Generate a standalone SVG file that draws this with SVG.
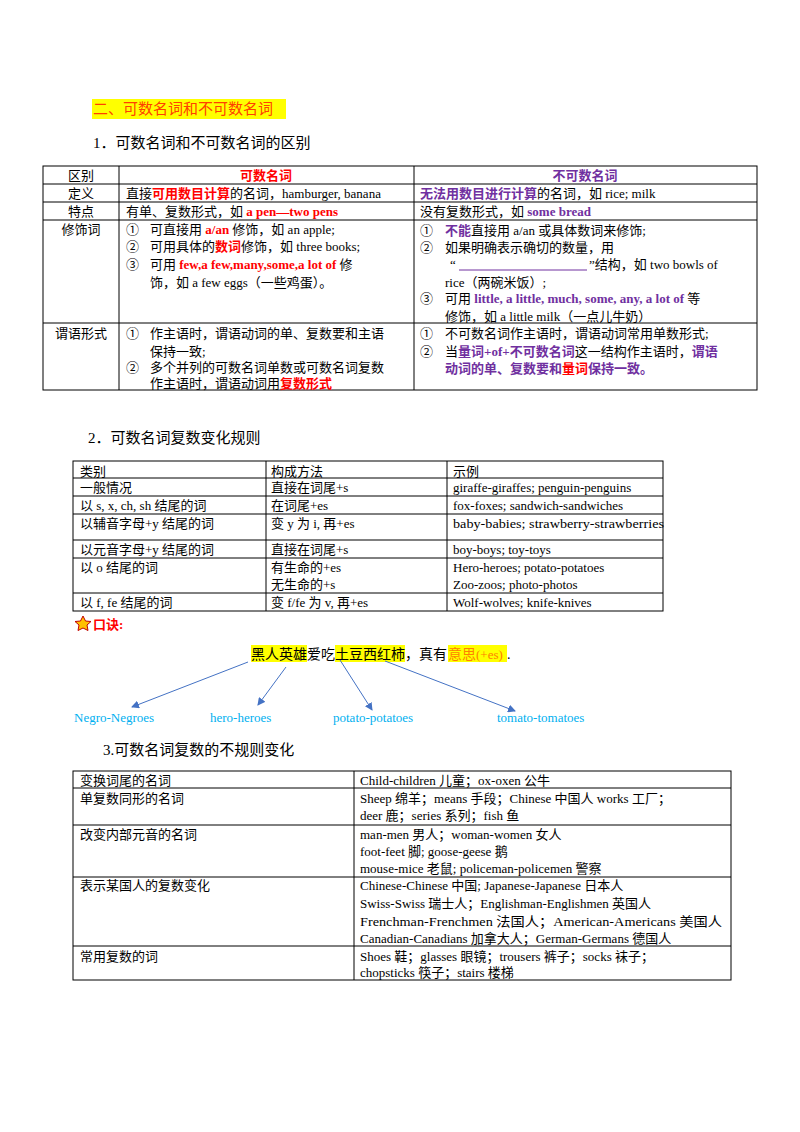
<svg xmlns="http://www.w3.org/2000/svg" width="800" height="1132" viewBox="0 0 800 1132">
<defs>
<marker id="ah" markerWidth="8" markerHeight="8" refX="7" refY="4" orient="auto" markerUnits="userSpaceOnUse"><path d="M0,0 L8,4 L0,8 z" fill="#4472c4"/></marker>
</defs>
<style>
text{font-family:"Liberation Serif","Noto Sans CJK SC",serif;font-size:13px;fill:#000}
.t{font-size:15px}
.r{fill:#ff0000;font-weight:bold}
.p{fill:#7030a0;font-weight:bold}
.c{text-anchor:middle}
.g line,.g rect{stroke:#000;stroke-width:1;fill:none}
.lb{fill:#00b0f0;font-size:13px}
.hl{fill:#ffff00}
.m{font-size:14px}
</style>
<rect width="800" height="1132" fill="#fff"/>
<g id="title">
<rect class="hl" x="92" y="99" width="194" height="20"/>
<text class="t" x="93" y="114" style="fill:#ff4000">二、可数名词和不可数名词</text>
<text class="t" x="93" y="148">1．可数名词和不可数名词的区别</text>
</g>
<g id="table1" class="g">
<rect x="43" y="166" width="714" height="224"/>
<line x1="43" y1="184" x2="757" y2="184"/><line x1="43" y1="202" x2="757" y2="202"/>
<line x1="43" y1="220" x2="757" y2="220"/><line x1="43" y1="323" x2="757" y2="323"/>
<line x1="119" y1="166" x2="119" y2="390"/><line x1="414" y1="166" x2="414" y2="390"/>
<text class="c" x="81" y="180">区别</text>
<text class="c r" x="266" y="180">可数名词</text>
<text class="c p" x="585" y="180">不可数名词</text>
<text class="c" x="81" y="198">定义</text>
<text x="126" y="198">直接<tspan class="r">可用数目计算</tspan>的名词，hamburger, banana</text>
<text x="420" y="198"><tspan class="p">无法用数目进行计算</tspan>的名词，如 rice; milk</text>
<text class="c" x="81" y="216">特点</text>
<text x="126" y="216">有单、复数形式，如 <tspan class="r">a pen—two pens</tspan></text>
<text x="420" y="216">没有复数形式，如 <tspan class="p">some bread</tspan></text>
<text class="c" x="81" y="234">修饰词</text>
<text x="126" y="234">①</text><text x="150" y="234">可直接用 <tspan class="r">a/an</tspan> 修饰，如 an apple;</text>
<text x="126" y="251">②</text><text x="150" y="251">可用具体的<tspan class="r">数词</tspan>修饰，如 three books;</text>
<text x="126" y="269">③</text><text x="150" y="269">可用 <tspan class="r">few,a few,many,some,a lot of</tspan> 修</text>
<text x="150" y="287">饰，如 a few eggs（一些鸡蛋）。</text>
<text x="420" y="235">①</text><text x="445" y="235"><tspan class="p">不能</tspan>直接用 a/an 或具体数词来修饰;</text>
<text x="420" y="252">②</text><text x="445" y="252">如果明确表示确切的数量，用</text>
<text x="450" y="269">“</text><line x1="459" y1="270" x2="587" y2="270" style="stroke:#7030a0"/><text x="589" y="269">”结构，如 two bowls of</text>
<text x="445" y="287">rice（两碗米饭）;</text>
<text x="420" y="303">③</text><text x="445" y="303">可用 <tspan class="p">little, a little, much, some, any, a lot of</tspan> 等</text>
<text x="445" y="321">修饰，如 a little milk（一点儿牛奶）</text>
<text class="c" x="81" y="338">谓语形式</text>
<text x="126" y="338">①</text><text x="150" y="338">作主语时，谓语动词的单、复数要和主语</text>
<text x="150" y="356">保持一致;</text>
<text x="126" y="372">②</text><text x="150" y="372">多个并列的可数名词单数或可数名词复数</text>
<text x="150" y="388">作主语时，谓语动词用<tspan class="r">复数形式</tspan></text>
<text x="420" y="338">①</text><text x="445" y="338">不可数名词作主语时，谓语动词常用单数形式;</text>
<text x="420" y="356">②</text><text x="445" y="356">当<tspan class="p">量词+of+不可数名词</tspan>这一结构作主语时，<tspan class="p">谓语</tspan></text>
<text x="445" y="373"><tspan class="p">动词的单、复数要和</tspan><tspan class="r">量词</tspan><tspan class="p">保持一致。</tspan></text>
</g>
<text class="t" x="88" y="443">2．可数名词复数变化规则</text>
<g id="table2" class="g">
<rect x="73" y="461" width="590" height="150"/>
<line x1="73" y1="478" x2="663" y2="478"/><line x1="73" y1="496" x2="663" y2="496"/>
<line x1="73" y1="514" x2="663" y2="514"/><line x1="73" y1="540" x2="663" y2="540"/>
<line x1="73" y1="558" x2="663" y2="558"/><line x1="73" y1="593" x2="663" y2="593"/>
<line x1="266" y1="461" x2="266" y2="611"/><line x1="447" y1="461" x2="447" y2="611"/>
<text x="80" y="476">类别</text><text x="271" y="476">构成方法</text><text x="453" y="476">示例</text>
<text x="80" y="492">一般情况</text><text x="271" y="492">直接在词尾+s</text><text x="453" y="492">giraffe-giraffes; penguin-penguins</text>
<text x="80" y="510">以 s, x, ch, sh 结尾的词</text><text x="271" y="510">在词尾+es</text><text x="453" y="510">fox-foxes; sandwich-sandwiches</text>
<text x="80" y="528">以辅音字母+y 结尾的词</text><text x="271" y="528">变 y 为 i, 再+es</text><text x="453" y="528" textLength="211" lengthAdjust="spacingAndGlyphs">baby-babies; strawberry-strawberries</text>
<text x="80" y="554">以元音字母+y 结尾的词</text><text x="271" y="554">直接在词尾+s</text><text x="453" y="554">boy-boys; toy-toys</text>
<text x="80" y="572">以 o 结尾的词</text><text x="271" y="572">有生命的+es</text><text x="453" y="572">Hero-heroes; potato-potatoes</text>
<text x="271" y="589">无生命的+s</text><text x="453" y="589">Zoo-zoos; photo-photos</text>
<text x="80" y="607">以 f, fe 结尾的词</text><text x="271" y="607">变 f/fe 为 v, 再+es</text><text x="453" y="607">Wolf-wolves; knife-knives</text>
</g>
<g id="koujue">
<path d="M83,616 L85.5,621 L91,621.5 L87,625 L88,630.5 L83,628 L78,630.5 L79,625 L75,621.5 L80.5,621 Z" fill="#ffc000" stroke="#c00000" stroke-width="1"/>
<text class="r" x="93" y="629">口诀:</text>
</g>
<g id="mnemonic">
<rect class="hl" x="251" y="645" width="56" height="17"/>
<rect class="hl" x="335" y="645" width="70" height="17"/>
<rect class="hl" x="448" y="645" width="59" height="17"/>
<text class="m" x="251" y="659">黑人英雄</text>
<text class="m" x="307" y="659">爱吃</text>
<text class="m" x="335" y="659">土豆西红柿</text>
<text class="m" x="405" y="659">，真有</text>
<text class="m" x="448" y="659" style="fill:#ff8000"><tspan>意思</tspan><tspan style="font-size:13px">(+es)</tspan></text>
<text class="m" x="507" y="659">.</text>
</g>
<g id="connectors" stroke="#4472c4" stroke-width="1" fill="none">
<line x1="248" y1="662" x2="132" y2="707" marker-end="url(#ah)"/>
<line x1="286" y1="667" x2="258" y2="705" marker-end="url(#ah)"/>
<line x1="340" y1="660" x2="372" y2="710" marker-end="url(#ah)"/>
<line x1="385" y1="661" x2="515" y2="711" marker-end="url(#ah)"/>
</g>
<g id="labels">
<text class="lb" x="74" y="722">Negro-Negroes</text>
<text class="lb" x="210" y="722">hero-heroes</text>
<text class="lb" x="333" y="722">potato-potatoes</text>
<text class="lb" x="497" y="722">tomato-tomatoes</text>
</g>
<text class="t" x="103" y="755">3.可数名词复数的不规则变化</text>
<g id="table3" class="g">
<rect x="73" y="771" width="658" height="209"/>
<line x1="73" y1="788" x2="731" y2="788"/><line x1="73" y1="825" x2="731" y2="825"/>
<line x1="73" y1="877" x2="731" y2="877"/><line x1="73" y1="946" x2="731" y2="946"/>
<line x1="354" y1="771" x2="354" y2="980"/>
<text x="80" y="785">变换词尾的名词</text><text x="360" y="785">Child-children 儿童；ox-oxen 公牛</text>
<text x="80" y="803">单复数同形的名词</text><text x="360" y="803">Sheep 绵羊；means 手段；Chinese 中国人 works 工厂；</text>
<text x="360" y="820">deer 鹿；series 系列；fish 鱼</text>
<text x="80" y="839">改变内部元音的名词</text><text x="360" y="839">man-men 男人；woman-women 女人</text>
<text x="360" y="856">foot-feet 脚; goose-geese 鹅</text>
<text x="360" y="873">mouse-mice 老鼠; policeman-policemen 警察</text>
<text x="80" y="890">表示某国人的复数变化</text><text x="360" y="890">Chinese-Chinese 中国; Japanese-Japanese 日本人</text>
<text x="360" y="908">Swiss-Swiss 瑞士人；Englishman-Englishmen 英国人</text>
<text x="360" y="926" textLength="362" lengthAdjust="spacingAndGlyphs">Frenchman-Frenchmen 法国人；American-Americans 美国人</text>
<text x="360" y="943">Canadian-Canadians 加拿大人；German-Germans 德国人</text>
<text x="80" y="961">常用复数的词</text><text x="360" y="961">Shoes 鞋；glasses 眼镜；trousers 裤子；socks 袜子；</text>
<text x="360" y="977">chopsticks 筷子；stairs 楼梯</text>
</g>
</svg>
